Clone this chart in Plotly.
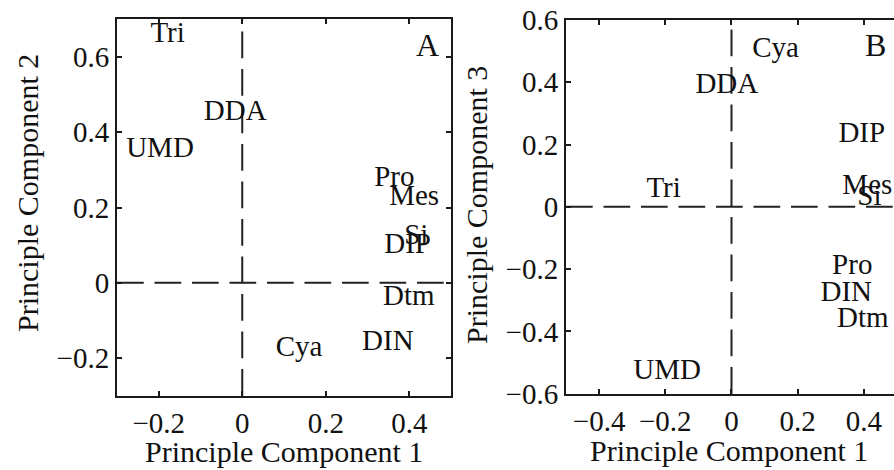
import plotly.graph_objects as go

# ---- Data ----
labels_A = ["Tri", "DDA", "UMD", "Pro", "Mes", "Si", "DIP", "Dtm", "DIN", "Cya"]
pc1_A = [-0.220, -0.092, -0.278, 0.316, 0.352, 0.388, 0.340, 0.337, 0.287, 0.080]
pc2_A = [0.660, 0.452, 0.354, 0.277, 0.225, 0.123, 0.099, -0.040, -0.159, -0.174]

labels_B = ["Cya", "DDA", "DIP", "Mes", "Si", "Tri", "Pro", "DIN", "Dtm", "UMD"]
pc1_B = [0.0625, -0.109, 0.323, 0.335, 0.380, -0.257, 0.304, 0.269, 0.319, -0.297]
pc3_B = [0.503, 0.389, 0.230, 0.065, 0.028, 0.054, -0.192, -0.280, -0.361, -0.529]

xticks_A = [-0.2, 0, 0.2, 0.4]
xticktext_A = ["\u22120.2", "0", "0.2", "0.4"]
yticks_A = [-0.2, 0, 0.2, 0.4, 0.6]
yticktext_A = ["\u22120.2", "0", "0.2", "0.4", "0.6"]
xticks_B = [-0.4, -0.2, 0, 0.2, 0.4]
xticktext_B = ["\u22120.4", "\u22120.2", "0", "0.2", "0.4"]
yticks_B = [-0.6, -0.4, -0.2, 0, 0.2, 0.4, 0.6]
yticktext_B = ["\u22120.6", "\u22120.4", "\u22120.2", "0", "0.2", "0.4", "0.6"]

FONT = "Liberation Serif"
W, H = 894, 470
LINE = "#1a1a1a"

fig = go.Figure()
fig.add_trace(go.Scatter(
    x=pc1_A, y=pc2_A, text=labels_A, mode="text", textposition="middle right",
    textfont=dict(family=FONT, size=29, color="#111"),
    xaxis="x", yaxis="y", showlegend=False, hoverinfo="skip", cliponaxis=False))
fig.add_trace(go.Scatter(
    x=pc1_B, y=pc3_B, text=labels_B, mode="text", textposition="middle right",
    textfont=dict(family=FONT, size=29, color="#111"),
    xaxis="x2", yaxis="y2", showlegend=False, hoverinfo="skip", cliponaxis=False))

common = dict(showgrid=False, zeroline=False, ticks="inside", ticklen=5, tickwidth=1.5,
              tickcolor=LINE, showline=True, linecolor=LINE, linewidth=2,
              tickfont=dict(family=FONT, size=29, color="#111"), fixedrange=True,
              automargin=False)

fig.update_layout(
    width=W, height=H, margin=dict(l=0, r=0, t=0, b=0, pad=0, autoexpand=False),
    paper_bgcolor="white", plot_bgcolor="white",
    xaxis=dict(domain=[117 / W, 451 / W], range=[-0.3, 0.5], tickvals=xticks_A,
               ticktext=xticktext_A, mirror="ticks", anchor="y", **common),
    yaxis=dict(domain=[1 - 395.7 / H, 1 - 19.3 / H], range=[-0.3, 0.7], tickvals=yticks_A,
               ticktext=yticktext_A, mirror="ticks", anchor="x", **common),
    xaxis2=dict(domain=[566 / W, 1.0], range=[-0.5, 0.491], tickvals=xticks_B,
                ticktext=xticktext_B, mirror="ticks", anchor="y2", **common),
    yaxis2=dict(domain=[1 - 393.7 / H, 1 - 20 / H], range=[-0.6, 0.6], tickvals=yticks_B,
                ticktext=yticktext_B, mirror=False, anchor="x2", **common),
)

dash = "26.7px,10.8px"
for xr, yr in (("x", "y"), ("x2", "y2")):
    # vertical zero line (drawn bottom to top)
    fig.add_shape(type="line", xref=xr, yref=yr + " domain", x0=0, x1=0, y0=0, y1=1,
                  line=dict(color="#222", width=2, dash=dash), layer="below")
    # horizontal zero line (drawn left to right)
    fig.add_shape(type="line", xref=xr + " domain", yref=yr, x0=0, x1=1, y0=0, y1=0,
                  line=dict(color="#222", width=2, dash=dash), layer="below")

ann_font = dict(family=FONT, size=30, color="#111")
annotations = [
    dict(text="A", x=0.412, y=0.632, xref="x", yref="y", xanchor="left", yanchor="middle",
         showarrow=False, font=dict(family=FONT, size=32, color="#111")),
    dict(text="B", x=0.398, y=0.519, xref="x2", yref="y2", xanchor="left", yanchor="middle",
         showarrow=False, font=dict(family=FONT, size=32, color="#111")),
    dict(text="Principle Component 1", x=284 / W, y=1 - 451 / H, xref="paper", yref="paper",
         xanchor="center", yanchor="middle", showarrow=False, font=ann_font),
    dict(text="Principle Component 1", x=729 / W, y=1 - 450 / H, xref="paper", yref="paper",
         xanchor="center", yanchor="middle", showarrow=False, font=ann_font),
    dict(text="Principle Component 2", x=27 / W, y=1 - 193 / H, xref="paper", yref="paper",
         xanchor="center", yanchor="middle", textangle=-90, showarrow=False, font=ann_font),
    dict(text="Principle Component 3", x=476 / W, y=1 - 205 / H, xref="paper", yref="paper",
         xanchor="center", yanchor="middle", textangle=-90, showarrow=False, font=ann_font),
]
fig.update_layout(annotations=annotations)

fig.write_html("out.html")
